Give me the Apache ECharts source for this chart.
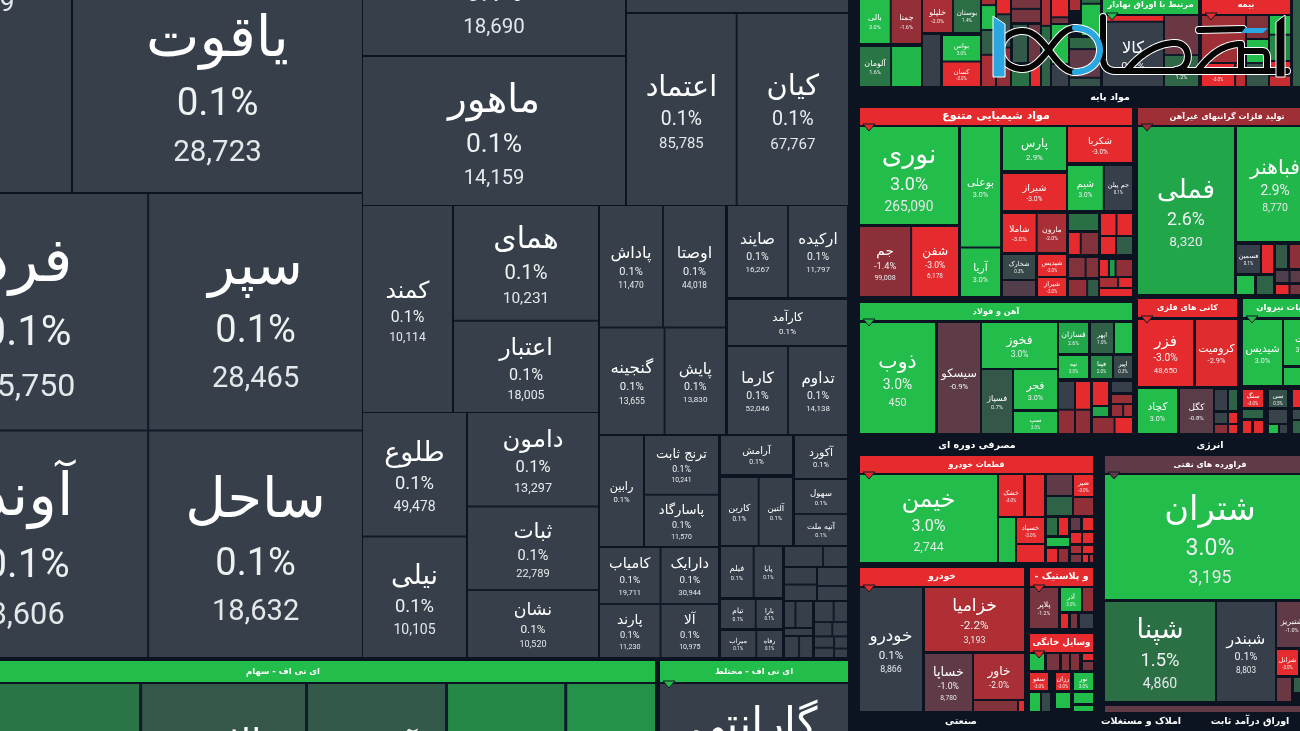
<!DOCTYPE html>
<html><head><meta charset="utf-8">
<style>html,body{margin:0;padding:0;background:#0c1422}#c{width:1300px;height:731px}</style>
<script src="https://cdn.jsdelivr.net/npm/echarts@6/dist/echarts.min.js"></script>
</head><body><div id="c"></div>
<script>
// ---------- market values (size = tile area, change = %, price) ----------
const mainNames = ['اطلس','یاقوت','فرد','سپر','آوند','ساحل','پادا','ماهور','رشد','اعتماد','کیان','کمند','همای','اعتبار','طلوع','نیلی','دامون','ثبات','نشان','پاداش','اوصتا','گنجینه','پایش','صایند','ارکیده','کارآمد','کارما','تداوم','رابین','ترنج ثابت','پاسارگاد','کامیاب','پارند','دارایک','آلا','آرامش','آکورد','سهول','آتیه ملت','کارین','آلتین','فیلم','پایا','تیام','بارا','میراب','رفاه'];
const mainSizes = [95000,59000,56640,50268,54240,48138,24900,38800,15900,20700,21000,18334,16416,13104,12669,12360,12090,10660,8710,7440,7320,6678,6254,5278,5187,5355,5046,4959,4730,4160,3650,3245,3068,3080,2912,2698,2184,1716,1560,2412,2144,1550,1350,950,725,884,650];
const mainChanges = mainNames.map(() => 0.1);
const mainPrices = ['82,689','28,723','25,750','28,465','8,606','18,632','18,690','14,159','','85,785','67,767','10,114','10,231','18,005','49,478','10,105','13,297','22,789','10,520','11,470','44,018','13,655','13,830','16,267','11,797','','52,046','14,138','','10,241','11,570','19,711','11,230','30,944','10,975','','','','','','','','','','','',''];
const mainBoxes = [[-121,-306,71,192,1],[73,-24,362,192,1],[-93,194,362,657,4],[363,-95,625,55,1],[363,57,625,205,1],[627,-60,848,12,1],[627,14,848,205,2],[363,206,452,412,1],[454,206,598,412,2],[363,413,466,657,2],[468,413,598,657,3],[600,206,725,434,4],[728,206,847,297,2],[728,300,847,345,1],[728,347,847,434,2],[600,436,643,546,1],[645,436,718,546,2],[600,548,718,657,4],[721,436,792,474,1],[795,436,847,478,1],[795,480,847,545,2],[721,478,792,545,2],[721,547,782,597,2],[721,600,782,628,2],[721,631,782,657,2]];
const grayNames = ['','','','','','','','','','','','','','','','','','',''];
const graySizes = [684,437,527,496,630,500,300,460,340,250,230,220,160,140,120,120,110,90,70];
const grayChanges = grayNames.map(() => 0.1);
const grayPrices = grayNames.map(() => '');
const grayBoxes = [[785,547,847,566,2],[785,568,816,600,2],[818,568,847,600,2],[785,602,812,627,2],[785,629,812,635,1],[785,637,812,657,2],[815,602,847,657,8]];

const etfNames = ['ثروتم','پالایش','آساس','سپاس','فیروزه'];
const etfSizes = [28000,32000,27000,23000,17500];
const etfChanges = [1.6,0.7,0.8,2.0,2.2];
const etfPrices = ['21,450','10,320','12,780','9,640','15,210'];
const etfBoxes = [[-3,684,655,860,5]];

const mixedNames = ['گارانتی'];
const mixedSizes = [37000];
const mixedChanges = [0.1];
const mixedPrices = ['12,050'];
const mixedBoxes = [[660,684,848,835,1]];

const stripNames = ['بالی','جمنا','آلومان','','خلیلو','بوستان','','بواس','کسان','','','','','','','','','','','','','','','','','','','','','','','','','','','','کالا','','ارابه','','بیمه','','','','','','','','','',''];
const stripSizes = [1800,1770,1130,1090,1500,1350,870,890,850,220,340,340,440,320,420,500,380,270,360,200,380,220,350,250,330,800,190,520,300,160,160,350,380,900,290,240,2280,1740,1390,860,2000,640,300,440,440,360,480,500,400,240,960];
const stripChanges = [3,-1.6,1.6,2.9,-2,1.4,0.1,3,-3,-2,3,0.9,-2,-3,0.6,-1.5,-1.2,-1.2,0.8,-1.1,1.5,-3,-2,1.3,1.0,-3,-1.2,3,0.1,-2,1.4,3,1.2,-1,0.5,-3,0.1,-1.1,1.2,-1.8,-3,-2.4,-1.3,3,0.6,3,2,-3,-2.5,0.9,1.6];
const stripPrices = stripNames.map(() => '');
const stripBoxes = [[860,-1,921,43,2],[860,47,921,86,2],[923,-1,980,32,2],[923,35,940,86,1],[943,36,980,86,2],[982,-10,995,86,4],[997,-10,1010,86,3],[1012,-10,1040,22,2],[1013,25,1027,62,1],[1029,25,1040,62,1],[1012,65,1040,86,2],[1042,-10,1050,86,3],[1052,-10,1068,23,2],[1052,25,1068,86,2],[1070,-10,1080,10,1],[1082,-10,1100,35,2],[1070,38,1100,86,3],[1103,16,1163,86,2],[1165,16,1198,86,2],[1202,16,1245,62,1],[1202,64,1245,86,2],[1247,16,1268,38,1],[1247,40,1268,86,2],[1270,16,1290,60,2],[1270,62,1290,86,2],[1293,-10,1303,86,1]];

const chemNames = ['نوری','جم','شفن','بوعلی','آریا','پارس','شکربا','شیراز','شیم','جم پیلن','شاملا','مارون','شخارک','شپدیس','','شیراز','','','','','','','','','','','','','','','','',''];
const chemSizes = [9506,3381,3105,6591,2691,2709,2240,2268,1496,1188,1216,1064,768,588,512,504,464,294,294,294,420,240,252,210,160,120,80,210,195,120,90,70,50];
const chemChanges = [3,-1.4,-3,3,3,2.9,-3,-3,3,0.1,-3,-2,0.3,-3,-0.6,-3,1.5,-3,-3,-3,-1.3,-3,0.9,-1.3,-1.3,-3,2.4,-1.5,-1.5,0.8,-2,-3,-3];
const chemPrices = ['265,090','99,008','6,178','','','','','','','','','','','','','','','','','','','','','','','','','','','','','',''];
const chemBoxes = [[860,127,958,224,1],[860,227,958,296,2],[961,127,1000,296,2],[1003,127,1066,170,1],[1068,127,1132,162,1],[1003,174,1066,210,1],[1068,166,1132,210,2],[1003,214,1066,252,2],[1003,255,1035,279,1],[1038,255,1066,276,1],[1003,281,1035,296,1],[1038,278,1066,296,1],[1069,214,1098,230,1],[1101,214,1132,235,2],[1069,233,1098,254,2],[1101,237,1132,254,2],[1069,258,1098,277,2],[1100,260,1132,276,3],[1069,280,1098,296,2],[1100,278,1132,287,2],[1100,289,1132,296,2]];

const goldNames = ['فملی','فباهنر','فسمین','','','','','','','','',''];
const goldSizes = [16032,8664,644,308,286,286,306,306,190,190,150,150];
const goldChanges = [2.6,2.9,0.1,-3,0.8,-1.4,3,1.1,-0.5,-0.8,-3,-1.2];
const goldPrices = ['8,320','8,770','','','','','','','','','',''];
const goldBoxes = [[1138,127,1234,294,1],[1237,127,1313,241,1],[1237,245,1260,273,1],[1262,245,1273,273,1],[1276,245,1287,268,1],[1290,245,1303,268,1],[1237,276,1254,294,1],[1257,276,1273,294,1],[1276,271,1303,282,2],[1276,285,1303,294,2]];

const ironNames = ['ذوب','سیسکو','فخوز','فسپاژ','فجر','سپ','فسازان','اپهر','','نیه','فپنا','اپیر','','','','','','','','','','','',''];
const ironSizes = [8250,4620,3375,1890,1677,903,870,660,510,638,462,396,390,330,364,308,240,170,150,180,160,130,110,90];
const ironChanges = [3,-0.9,3,0.7,3,3,2.6,1,3,3,2,0.3,0.1,-1.5,-3,-1.5,-3,2.6,0.1,-1.7,-1.6,-2,-1.5,-3];
const ironPrices = ['450','','','','','','','','','','','','','','','','','','','','','','',''];
const ironBoxes = [[860,323,935,433,1],[938,323,980,433,1],[982,323,1057,368,1],[982,370,1012,433,1],[1014,370,1057,409,1],[1014,412,1057,433,1],[1059,323,1088,353,1],[1091,323,1113,353,1],[1115,323,1132,353,1],[1059,356,1088,378,1],[1091,356,1112,378,1],[1114,356,1132,378,1],[1059,382,1074,433,2],[1076,382,1090,433,2],[1093,382,1108,405,1],[1093,407,1108,416,1],[1112,382,1132,392,1],[1112,395,1132,403,1],[1112,405,1132,416,2],[1093,418,1132,433,2]];

const metalNames = ['فزر','کرومیت','کچاد','کگل','','','','','',''];
const metalSizes = [3630,2706,1716,1452,240,180,108,64,80,60];
const metalChanges = [-3,-2.9,3,-0.8,0.1,1.1,0.2,-3,-1.4,-3];
const metalPrices = ['48,650','','','','','','','','',''];
const metalBoxes = [[1138,320,1193,386,1],[1196,320,1237,386,1],[1138,389,1177,433,1],[1180,389,1213,433,1],[1215,390,1227,410,1],[1229,390,1237,410,1],[1215,413,1227,423,1],[1229,413,1237,423,1],[1215,425,1227,433,1],[1229,425,1237,433,1]];

const utilNames = ['شیدیس','ثبت','','سنگ','','','','سی','','','','','',''];
const utilSizes = [2535,1600,600,340,190,110,70,310,240,80,70,130,110,90];
const utilChanges = [3,3,3,-3,1.1,-3,-3,0.5,0.2,3,0.1,-3,0.3,1.1];
const utilPrices = utilNames.map(() => '');
const utilBoxes = [[1243,320,1282,385,1],[1284,320,1322,365,1],[1284,368,1322,385,1],[1243,390,1263,407,1],[1243,410,1263,418,1],[1243,421,1251,433,1],[1254,421,1263,433,1],[1269,390,1287,407,1],[1269,410,1287,423,1],[1269,425,1278,433,1],[1280,425,1287,433,1],[1293,390,1303,407,1],[1293,410,1303,419,1],[1293,421,1303,433,1]];

const partsNames = ['خیمن','','خشک','','خسپاد','','','','ضیر','','','','','','','','','','','','','','',''];
const partsSizes = [11919,704,1008,756,675,486,500,450,399,340,170,130,120,130,176,130,120,90,90,80,70,70,60,50];
const partsChanges = [3,3,-3,-3,-3,-3,-1,1.1,-3,-1.5,1.4,-3,-1,-3,3,-3,-1.5,-3,-3,-2,-3,-1.2,-3,-2];
const partsPrices = ['2,744','','','','','','','','','','','','','','','','','','','','','','',''];
const partsBoxes = [[860,475,997,562,1],[999,518,1015,562,1],[999,475,1023,516,1],[1026,475,1044,516,1],[1017,518,1044,543,1],[1017,545,1044,562,1],[1047,475,1072,495,1],[1047,497,1072,515,1],[1074,475,1093,496,1],[1074,498,1093,515,1],[1047,518,1057,535,1],[1059,518,1068,535,1],[1071,518,1080,530,1],[1083,518,1093,530,1],[1047,538,1069,546,1],[1047,549,1057,562,1],[1059,549,1068,562,1],[1071,533,1081,543,1],[1083,533,1093,543,1],[1071,546,1081,553,1],[1083,546,1093,553,1],[1071,555,1081,562,1],[1083,555,1088,562,1],[1090,555,1093,562,1]];

const autoNames = ['خودرو','خزامیا','خساپا','خاور','',''];
const autoSizes = [7626,6237,2679,2250,430,50];
const autoChanges = [0.1,-2.2,-1.0,-2.0,-1.3,-3];
const autoPrices = ['8,866','3,193','8,780','','',''];
const autoBoxes = [[860,588,922,711,1],[925,588,1024,651,1],[925,654,972,711,1],[974,654,1024,699,1],[974,701,1017,711,1],[1019,701,1024,711,1]];

const rubberNames = ['پلاپر','آذر','','','',''];
const rubberSizes = [1120,460,230,100,90,150];
const rubberChanges = [-1.2,3,-1.5,-3,-1.2,0.1];
const rubberPrices = rubberNames.map(() => '');
const rubberBoxes = [[1030,588,1058,628,1],[1061,588,1081,611,1],[1083,588,1093,611,1],[1061,614,1068,628,1],[1071,614,1077,628,1],[1080,614,1093,628,1]];

const homeNames = ['','','','','','','سفو','رزان','نور','','','','',''];
const homeSizes = [220,200,120,90,70,110,300,240,300,150,90,210,210,80];
const homeChanges = [3,-1.2,-1.3,-1.3,-3,-1.2,-3,-3,3,3,0.3,3,3,3];
const homePrices = homeNames.map(() => '');
const homeBoxes = [[1030,654,1044,670,1],[1047,654,1059,670,1],[1062,654,1069,670,1],[1071,654,1079,670,1],[1083,654,1093,660,1],[1083,662,1093,670,1],[1030,673,1048,690,1],[1056,673,1070,690,1],[1074,673,1093,690,1],[1030,693,1040,711,1],[1042,693,1050,711,1],[1056,693,1070,708,1],[1074,693,1093,703,1],[1074,706,1093,711,1]];

const oilNames = ['شتران','شپنا','شبندر','شتبریز','شرانل','','',''];
const oilSizes = [25830,10890,5700,1410,480,300,180,60];
const oilChanges = [3,1.5,0.1,-1,-3,-1.1,0.9,0.1];
const oilPrices = ['3,195','4,860','8,803','','','','',''];
const oilBoxes = [[1105,475,1315,599,1],[1105,602,1215,701,1],[1217,602,1275,701,1],[1277,602,1307,647,1],[1277,650,1298,675,1],[1277,678,1291,701,1],[1294,678,1303,692,1],[1300,650,1307,675,1]];

const estateNames = [''];
const estateSizes = [1400];
const estateChanges = [-1];
const estatePrices = [''];
const estateBoxes = [[1105,706,1320,712,1]];

const headerNames = ['ای تی اف - سهام','ای تی اف - مختلط','مرتبط با اوراق بهادار','بیمه','مواد شیمیایی متنوع','تولید فلزات گرانبهای غیرآهن','آهن و فولاد','کانی های فلزی','عملیات نیروان','قطعات خودرو','خودرو','- و پلاستیک','وسایل خانگی','فراورده های نفتی'];
const headerChanges = [3,3,3,-3,-3,-1.8,3,-3,3,-3,-3,-3,-3,-1];
const headerBoxes = [[-89,661,655,682],[660,661,848,682],[1103,-5,1198,14],[1202,-5,1290,14],[860,108,1132,125],[1138,108,1316,125],[860,303,1132,320],[1138,299,1237,317],[1243,299,1330,317],[860,456,1093,473],[860,568,1024,586],[1030,568,1093,586],[1030,634,1093,652],[1105,456,1315,473]];
const headerFonts = [8.5,8.5,8.2,8,11,8,8,8,8.5,8,9,9.5,8.7,8];

const sectorNames = ['مواد پایه','مصرفی دوره ای','انرژی','صنعتی','املاک و مستغلات','اوراق درآمد ثابت'];
const sectorAnchors = [[1110,98],[977,446],[1210,446],[961,722],[1141,722],[1250,722]];

// ---------- styling ----------
const PAGE = '#0c1422', GAP = '#101a28';
const ARABIC = '"DejaVu Sans","Noto Sans",sans-serif', LATIN = 'Roboto,sans-serif';
const scaleStops = [[-3,[230,43,46]],[-2.2,[176,47,52]],[-1.4,[140,47,56]],[-1,[96,58,70]],[-0.3,[72,64,78]],[0.1,[55,64,74]],[0.6,[54,84,74]],[1,[48,96,72]],[1.5,[42,112,68]],[2.2,[36,146,72]],[2.6,[34,166,74]],[3,[34,189,74]]];
function rgb(c){return 'rgb('+c.map(Math.round).join(',')+')';}
function tone(v){
  if(v<=scaleStops[0][0]) return rgb(scaleStops[0][1]);
  for(let i=1;i<scaleStops.length;i++){
    const a=scaleStops[i-1],b=scaleStops[i];
    if(v<=b[0]){const t=(v-a[0])/(b[0]-a[0]);return rgb(a[1].map((c,k)=>c+(b[1][k]-c)*t));}
  }
  return rgb(scaleStops[scaleStops.length-1][1]);
}

const groups = [
  {n:mainNames,s:mainSizes,c:mainChanges,p:mainPrices,b:mainBoxes,k:0.25,gap:2},
  {n:grayNames,s:graySizes,c:grayChanges,p:grayPrices,b:grayBoxes,k:0.25,gap:2},
  {n:etfNames,s:etfSizes,c:etfChanges,p:etfPrices,b:etfBoxes,k:0.21,gap:3},
  {n:mixedNames,s:mixedSizes,c:mixedChanges,p:mixedPrices,b:mixedBoxes,k:0.3,gap:2},
  {n:stripNames,s:stripSizes,c:stripChanges,p:stripPrices,b:stripBoxes,k:0.26,gap:2},
  {n:chemNames,s:chemSizes,c:chemChanges,p:chemPrices,b:chemBoxes,k:0.26,gap:2},
  {n:goldNames,s:goldSizes,c:goldChanges,p:goldPrices,b:goldBoxes,k:0.26,gap:2},
  {n:ironNames,s:ironSizes,c:ironChanges,p:ironPrices,b:ironBoxes,k:0.26,gap:2},
  {n:metalNames,s:metalSizes,c:metalChanges,p:metalPrices,b:metalBoxes,k:0.26,gap:2},
  {n:utilNames,s:utilSizes,c:utilChanges,p:utilPrices,b:utilBoxes,k:0.26,gap:2},
  {n:partsNames,s:partsSizes,c:partsChanges,p:partsPrices,b:partsBoxes,k:0.26,gap:2},
  {n:autoNames,s:autoSizes,c:autoChanges,p:autoPrices,b:autoBoxes,k:0.26,gap:2},
  {n:rubberNames,s:rubberSizes,c:rubberChanges,p:rubberPrices,b:rubberBoxes,k:0.26,gap:2},
  {n:homeNames,s:homeSizes,c:homeChanges,p:homePrices,b:homeBoxes,k:0.26,gap:2},
  {n:oilNames,s:oilSizes,c:oilChanges,p:oilPrices,b:oilBoxes,k:0.26,gap:2},
  {n:estateNames,s:estateSizes,c:estateChanges,p:estatePrices,b:estateBoxes,k:0.26,gap:2}
];

function labelFor(name,change,price,dim,k){
  if(!name||!dim) return {show:false};
  const w=dim.width,h=dim.height,m=Math.min(w,h);
  let f=Math.min(k*m*1.05,1.6*w/Math.max(name.length,2));
  f=Math.max(f,6.5);
  const N=f*1.35,P=f*0.9,V=f*0.8;
  const lines=['{n|'+name+'}'];
  let used=N;
  if(h>=used+P){lines.push('{p|'+change.toFixed(1)+'%}');used+=P;}
  if(price&&h>=used+V&&w>26){lines.push('{v|'+price+'}');used+=V;}
  // the treemap starts its text at the top of a tile, so push it down to the middle
  const top=Math.max(0,(h-used)/2+Math.min(f*0.1,(h-used)/2));
  return {show:true,position:'inside',align:'center',overflow:'none',padding:[top,0,0,0],
    formatter:lines.join('\n'),
    rich:{
      n:{fontFamily:ARABIC,fontSize:f,lineHeight:N,color:'#fff',align:'center'},
      p:{fontFamily:LATIN,fontSize:f*0.68,lineHeight:P,color:'#eef1f2',align:'center'},
      v:{fontFamily:LATIN,fontSize:f*0.52,lineHeight:V,color:'#e4e8ea',align:'center'}
    }};
}

function baseSeries(box){
  return {type:'treemap',left:box[0],top:box[1],width:box[2]-box[0],height:box[3]-box[1],
    roam:false,nodeClick:false,breadcrumb:{show:false},sort:false,visibleMin:0,animation:false,silent:true,
    squareRatio:1,
    itemStyle:{borderWidth:0,gapWidth:2,borderColor:GAP}};
}

function build(dims){
  const series=[];
  groups.forEach((g,gi)=>{
    let at=0;
    g.b.forEach((box,bi)=>{
      const data=[];
      for(let i=0;i<box[4];i++,at++){
        const id=gi+':'+bi+':'+i;
        data.push({name:g.n[at]||'·',value:g.s[at],
          itemStyle:{color:tone(g.c[at])},
          label:labelFor(g.n[at],g.c[at],g.p[at],dims[id],g.k)});
      }
      const s=baseSeries(box);
      s.id='b'+gi+'_'+bi;
      s.itemStyle.gapWidth=g.gap;
      s.data=data;
      series.push(s);
    });
  });
  headerNames.forEach((name,i)=>{
    const s=baseSeries(headerBoxes[i]);
    const b=headerBoxes[i],size=headerFonts[i];
    s.id='h'+i;
    s.data=[{name,value:1,itemStyle:{color:tone(headerChanges[i])},
      label:{show:true,position:'inside',align:'center',overflow:'none',padding:[Math.max(0,(b[3]-b[1]-size*1.3)/2),0,0,0],formatter:name,
        lineHeight:size*1.3,fontFamily:ARABIC,fontSize:size,fontWeight:'bold',color:'#fff'}}];
    series.push(s);
  });
  return series;
}

// flatten an outline written as M/C/L commands into points for a polyline
function outline(d){
  const t=d.trim().split(/\s+/),pts=[];let i=0,cur=null;
  const num=()=>parseFloat(t[i++]);
  while(i<t.length){
    const tok=t[i];let cmd=tok[0];t[i]=tok.slice(1);if(t[i]==='')i++;
    if(cmd==='M'||cmd==='L'){cur=[num(),num()];pts.push(cur);}
    else{
      const a=[num(),num()],b=[num(),num()],e=[num(),num()],p=cur;
      for(let s=1;s<=16;s++){const u=s/16,v=1-u;
        pts.push([v*v*v*p[0]+3*v*v*u*a[0]+3*v*u*u*b[0]+u*u*u*e[0],v*v*v*p[1]+3*v*v*u*a[1]+3*v*u*u*b[1]+u*u*u*e[1]]);}
      cur=e;
    }
  }
  return pts;
}

function decorations(){
  const out=[];
  headerBoxes.forEach((b,i)=>{
    if(b[0]<0) return;
    out.push({type:'polygon',z:50,shape:{points:[[b[0]+3,b[3]-1],[b[0]+15,b[3]-1],[b[0]+9,b[3]+6]]},
      style:{fill:tone(headerChanges[i]),stroke:GAP,lineWidth:1}});
  });
  sectorNames.forEach((t,i)=>{
    out.push({type:'text',z:50,x:sectorAnchors[i][0],y:sectorAnchors[i][1],
      style:{text:t,fill:'#fff',font:'bold 9.5px '+ARABIC,align:'center',verticalAlign:'middle'}});
  });
  // publisher's logo laid over the picture
  const ink=[
    'M1075 72 C1055 72 1045 31 1023 31 C1010 31 1001 39 1001 50 C1001 61 1010 69 1023 69 C1045 69 1055 28 1075 28',
    'M1103 17 L1103 58 C1103 66 1107 71 1116 71 L1287 71',
    'M1128 69 C1142 52 1160 43 1175 43 C1192 43 1192 69 1176 70',
    'M1199 69 C1212 52 1226 44 1241 44 L1241 70',
    'M1243 51 L1262 51 C1266 51 1267 54 1267 58 L1267 70',
    'M1199 30 L1243 29'
  ];
  const arc='M1075 28 C1090 28 1100 38 1100 50 C1100 62 1090 72 1075 72';
  const line=(d,color,w,z)=>({type:'polyline',z,shape:{points:outline(d)},style:{fill:null,stroke:color,lineWidth:w,lineCap:'round',lineJoin:'round'}});
  ink.concat([arc]).forEach(d=>out.push(line(d,'#fff',8,60)));
  ink.forEach(d=>out.push(line(d,'#050505',6,61)));
  out.push(line(arc,'#2aa6e0',6,61));
  out.push({type:'polygon',z:61,shape:{points:[[993,16],[1005,24],[1005,77],[993,77]]},style:{fill:'#2aa6e0',stroke:'#fff',lineWidth:1}});
  out.push({type:'polygon',z:61,shape:{points:[[1245,28],[1268,28],[1263,33],[1241,33]]},style:{fill:'#2aa6e0'}});
  out.push({type:'polygon',z:61,shape:{points:[[1276,22],[1285,15],[1285,77],[1276,77]]},style:{fill:'#050505',stroke:'#fff',lineWidth:1}});
  return out;
}

const chart=echarts.init(document.getElementById('c'),null,{renderer:'canvas'});
const base={backgroundColor:PAGE,animation:false,tooltip:{show:false},graphic:{elements:decorations()}};
chart.setOption(Object.assign({},base,{series:build({})}));
// second pass: read the tile sizes the treemap layout produced, so text can be fitted to them
const dims={};
chart.getModel().getSeries().forEach(sm=>{
  const m=/^b(\d+)_(\d+)$/.exec(sm.id||'');
  if(!m) return;
  sm.getData().tree.root.children.forEach((node,i)=>{
    const l=node.getLayout();
    if(l) dims[m[1]+':'+m[2]+':'+i]={width:l.width,height:l.height};
  });
});
chart.setOption(Object.assign({},base,{series:build(dims)}),true);
</script></body></html>
